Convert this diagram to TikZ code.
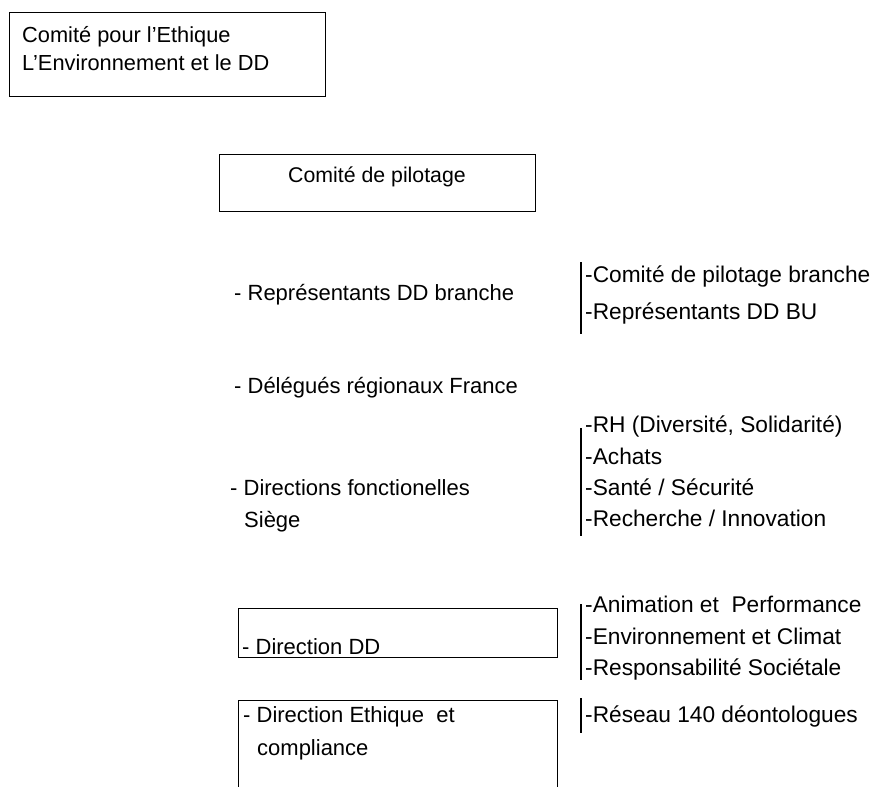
\documentclass[tikz,border=0pt]{standalone}
\usepackage{fontspec}
\setmainfont{Liberation Sans}
\begin{document}
\begin{tikzpicture}[x=1pt,y=-1pt,
  txt/.style={anchor=base west,inner sep=0pt,font=\fontsize{22}{31}\selectfont},
  rtxt/.style={anchor=base west,inner sep=0pt,font=\fontsize{22.7}{31}\selectfont},
  frame/.style={draw,line width=1pt},
  sep/.style={line width=1.2pt}]
\useasboundingbox (0,0) rectangle (873,787);
% boxes
\draw[frame] (9,12) rectangle (325,96);
\draw[frame] (219,154) rectangle (535,211);
\draw[frame] (238,608) rectangle (557,657);
\draw[frame] (238,787) -- (238,700) -- (557,700) -- (557,787);
% texts in boxes
\node[txt,font=\fontsize{21.8}{31}\selectfont] (c1) at (22,42) {Comité pour l’Ethique};
\node[txt,font=\fontsize{21.8}{31}\selectfont] (c2) at (22,70) {L’Environnement et le DD};
\node[txt,anchor=base,font=\fontsize{21.3}{31}\selectfont] (cp) at (377,182) {Comité de pilotage};
\node[txt] (rep) at (234,300) {- Représentants DD branche};
\node[txt] (del) at (234,393) {- Délégués régionaux France};
\node[txt] (dir1) at (230,495) {- Directions fonctionelles};
\node[txt] (dir2) at (244,527) {Siège};
\node[txt] (ddd) at (242,654) {- Direction DD};
\node[txt] (de1) at (243,722) {- Direction Ethique\ \ et};
\node[txt] (de2) at (257,755) {compliance};
% right column
\node[rtxt] (r1) at (585,282) {-Comité de pilotage branche};
\node[rtxt] (r2) at (585,319) {-Représentants DD BU};
\node[rtxt] (r3) at (585,432) {-RH (Diversité, Solidarité)};
\node[rtxt] (r4) at (585,464) {-Achats};
\node[rtxt] (r5) at (585,495) {-Santé / Sécurité};
\node[rtxt] (r6) at (585,526) {-Recherche / Innovation};
\node[rtxt] (r7) at (585,612) {-Animation et\ \ Performance};
\node[rtxt] (r8) at (585,644) {-Environnement et Climat};
\node[rtxt] (r9) at (585,675) {-Responsabilité Sociétale};
\node[rtxt] (r10) at (585,722) {-Réseau 140 déontologues};
% separators
\draw[sep] (581,262) -- (581,334);
\draw[sep] (581,428) -- (581,536);
\draw[sep] (581,604) -- (581,680);
\draw[sep] (581,698) -- (581,733);
\end{tikzpicture}
\end{document}
